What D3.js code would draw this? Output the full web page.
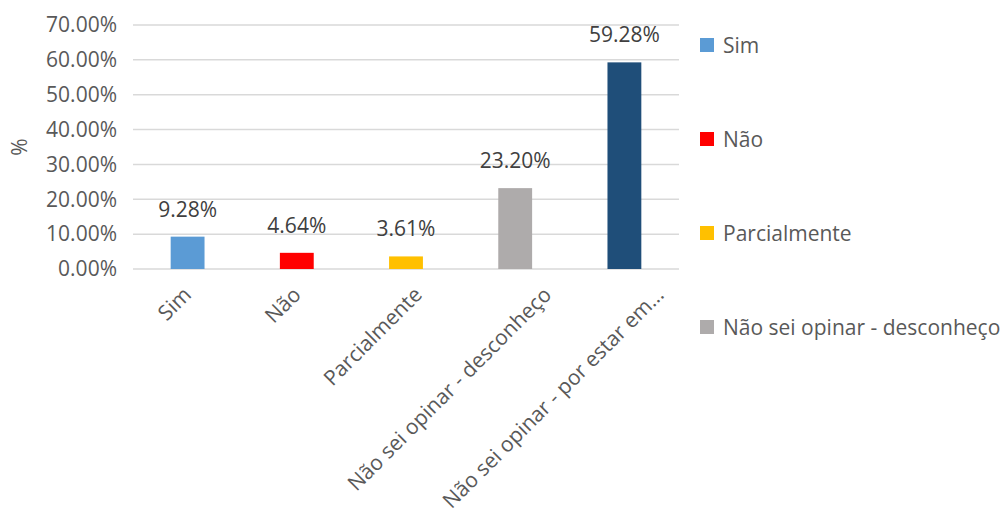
<!DOCTYPE html>
<html><head><meta charset="utf-8">
<script src="https://cdn.jsdelivr.net/npm/d3@7"></script>
<style>body{margin:0;background:#fff}svg{display:block}text{font-family:"Open Sans",sans-serif}</style>
</head><body>
<svg id="c" width="1000" height="516"></svg>
<script>
const categories = ["Sim","Não","Parcialmente","Não sei opinar - desconheço","Não sei opinar - por estar em..."];
const values = [9.28, 4.64, 3.61, 23.20, 59.28];
const colors = ["#5B9BD5","#FF0000","#FFC000","#AEABAB","#1F4E79"];
const yTicks = [0,10,20,30,40,50,60,70];
const legendItems = ["Sim","Não","Parcialmente","Não sei opinar - desconheço"];

const FS = 21;
const svg = d3.select("#c");
const x = d3.scaleBand().domain(categories).range([133,679]).paddingInner(0.69).paddingOuter(0.345);
const y = d3.scaleLinear().domain([0,70]).range([269,25]);

// gridlines
svg.append("g").selectAll("line").data(yTicks).join("line")
  .attr("x1",133).attr("x2",679).attr("y1",d=>y(d)).attr("y2",d=>y(d))
  .attr("stroke","#D9D9D9").attr("stroke-width",1.5);

// y axis labels
const yAxis = d3.axisLeft(y).tickValues(yTicks).tickFormat(d=>d.toFixed(2)+"%").tickSize(0).tickPadding(0);
const ga = svg.append("g").attr("transform","translate(117,0)").call(yAxis);
ga.select(".domain").remove();
ga.selectAll("text").attr("font-size",FS).attr("fill","#595959").attr("font-family","Open Sans, sans-serif");

// y title
svg.append("text").attr("transform","translate(27,147) rotate(-90)").attr("text-anchor","middle")
  .attr("font-size",FS).attr("fill","#595959").text("%");

// bars
svg.append("g").selectAll("rect").data(values).join("rect")
  .attr("x",(d,i)=>x(categories[i])).attr("width",x.bandwidth())
  .attr("y",d=>y(d)).attr("height",d=>y(0)-y(d))
  .attr("fill",(d,i)=>colors[i]);

// data labels
svg.append("g").selectAll("text").data(values).join("text")
  .attr("x",(d,i)=>x(categories[i])+x.bandwidth()/2).attr("y",d=>y(d)-20)
  .attr("text-anchor","middle").attr("font-size",FS).attr("fill","#404040")
  .text(d=>d.toFixed(2)+"%");

// x labels (rotated, end-anchored, shifted like Excel)
const xl = svg.append("g").selectAll("text").data(categories).join("text")
  .attr("text-anchor","end").attr("font-size",FS).attr("fill","#595959").text(d=>d);
xl.each(function(d){
  const w = this.getComputedTextLength();
  const ex = x(d)+x.bandwidth()/2 + 0.135*w;
  d3.select(this).attr("transform",`translate(${ex},296) rotate(-45)`);
});

// legend
const lg = svg.append("g").selectAll("g").data(legendItems).join("g")
  .attr("transform",(d,i)=>`translate(700,${45+i*94})`);
lg.append("rect").attr("x",0).attr("y",-7).attr("width",14).attr("height",14).attr("fill",(d,i)=>colors[i]);
lg.append("text").attr("x",23).attr("y",7.5).attr("font-size",FS).attr("fill","#595959").text(d=>d);
</script>
</body></html>
